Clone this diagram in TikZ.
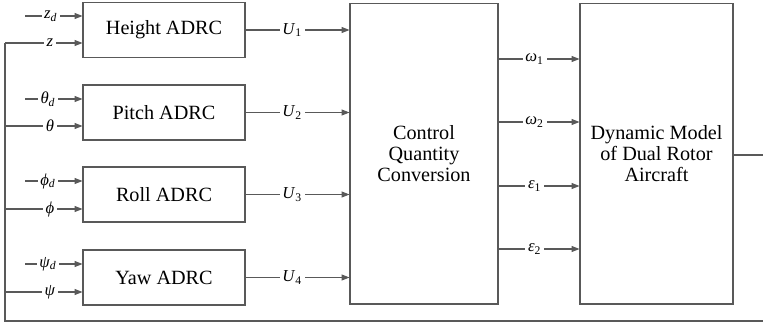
\documentclass[tikz,border=0pt]{standalone}
\usepackage{fontspec}
\setmainfont{Liberation Serif}
\usetikzlibrary{arrows.meta,calc}

\colorlet{linegray}{black!65}
\tikzset{
    ctrl/.style={draw=linegray, line width=0.6pt, minimum width=3.24cm, minimum height=1.1cm,
        inner sep=0pt, font=\fontsize{11.5}{12}\selectfont},
    big/.style={draw=linegray, line width=0.6pt, minimum height=6.02cm, inner sep=0pt,
        align=center, font=\fontsize{11.5}{11.8}\selectfont},
    arr/.style={draw=linegray, line width=0.6pt, -{Triangle[length=4.5pt,width=3.4pt]}},
    ln/.style={draw=linegray, line width=0.6pt},
    lbl/.style={fill=white, inner sep=1.5pt, font=\fontsize{9.5}{10}\selectfont}
}
\newcommand{\var}[2]{\textit{#1}\textsubscript{#2}}

\begin{document}
\begin{tikzpicture}[x=0.02cm,y=-0.02cm]
        \useasboundingbox (0,0) rectangle (763,326);
        % 四个ADRC控制器
        \node [ctrl] (h) at (164,30) {Height ADRC};
        \node [ctrl] (p) at (164,112.5) {Pitch ADRC};
        \node [ctrl] (r) at (164,194.5) {Roll ADRC};
        \node [ctrl] (y) at (164,277.5) {Yaw ADRC};
        % 控制量转换与动力学模型
        \node [big, minimum width=2.96cm] (cqc) at (424,153.5) {Control\\Quantity\\Conversion};
        \node [big, minimum width=3.06cm] (dm) at (656.5,153.5) {Dynamic Model\\of Dual Rotor\\Aircraft};

        % 期望值输入
        \coordinate (zd) at (25,16);
        \coordinate (td) at (25,99);
        \coordinate (pd) at (25,181);
        \coordinate (yd) at (25,264);
        \draw [arr] (zd) -- node[lbl, pos=0.45] {\var{z}{\textit{d}}} (zd -| h.west);
        \draw [arr] (td) -- node[lbl, pos=0.4] {\var{θ}{\textit{d}}} (td -| p.west);
        \draw [arr] (pd) -- node[lbl, pos=0.4] {\var{ϕ}{\textit{d}}} (pd -| r.west);
        \draw [arr] (yd) -- node[lbl, pos=0.4] {\var{ψ}{\textit{d}}} (yd -| y.west);

        % 反馈回路
        \coordinate (fz) at (5,43);
        \coordinate (ft) at (5,126);
        \coordinate (fp) at (5,209);
        \coordinate (fy) at (5,292);
        \coordinate (fb) at (5,321);
        \coordinate (fe) at (763,321);
        \draw [ln] (fe) -- (fb) -- (fz);
        \draw [arr] (fz) -- node[lbl, pos=0.58] {\textit{z}} (fz -| h.west);
        \draw [arr] (ft) -- node[lbl, pos=0.58] {\textit{θ}} (ft -| p.west);
        \draw [arr] (fp) -- node[lbl, pos=0.58] {\textit{ϕ}} (fp -| r.west);
        \draw [arr] (fy) -- node[lbl, pos=0.58] {\textit{ψ}} (fy -| y.west);

        % 控制量
        \draw [arr] (h.east) -- node[lbl, pos=0.45] {\var{U}{1}} (h.east -| cqc.west);
        \draw [arr] (p.east) -- node[lbl, pos=0.45] {\var{U}{2}} (p.east -| cqc.west);
        \draw [arr] (r.east) -- node[lbl, pos=0.45] {\var{U}{3}} (r.east -| cqc.west);
        \draw [arr] (y.east) -- node[lbl, pos=0.45] {\var{U}{4}} (y.east -| cqc.west);

        % 转速与倾角
        \coordinate (w1) at (498,59);
        \coordinate (w2) at (498,122);
        \coordinate (e1) at (498,186);
        \coordinate (e2) at (498,249);
        \draw [arr] (w1) -- node[lbl, pos=0.45] {\var{ω}{1}} (w1 -| dm.west);
        \draw [arr] (w2) -- node[lbl, pos=0.45] {\var{ω}{2}} (w2 -| dm.west);
        \draw [arr] (e1) -- node[lbl, pos=0.45] {\var{ε}{1}} (e1 -| dm.west);
        \draw [arr] (e2) -- node[lbl, pos=0.45] {\var{ε}{2}} (e2 -| dm.west);

        % 输出
        \coordinate (out) at (763,155);
        \draw [ln] (dm.east |- out) -- (out);
    \end{tikzpicture}
\end{document}
